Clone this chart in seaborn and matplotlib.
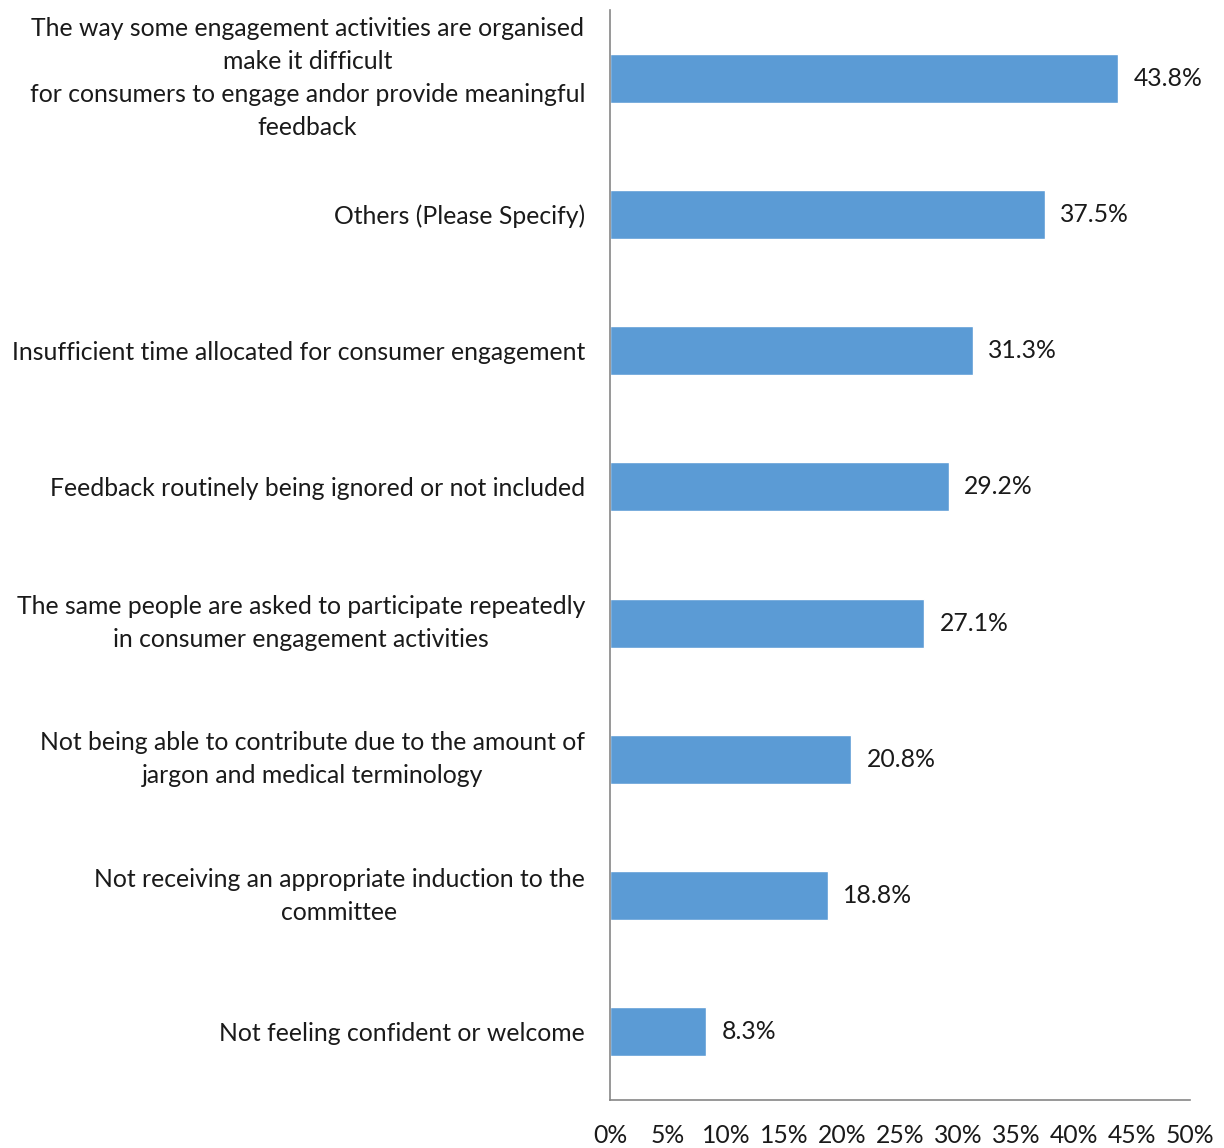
import matplotlib
matplotlib.use("Agg")
import matplotlib.pyplot as plt
import seaborn as sns
import pandas as pd

categories = [
    "The way some engagement activities are organised\nmake it difficult\nfor consumers to engage andor provide meaningful\nfeedback",
    "Others (Please Specify)",
    "Insufficient time allocated for consumer engagement",
    "Feedback routinely being ignored or not included",
    "The same people are asked to participate repeatedly\nin consumer engagement activities",
    "Not being able to contribute due to the amount of\njargon and medical terminology",
    "Not receiving an appropriate induction to the\ncommittee",
    "Not feeling confident or welcome",
]
values = [43.8, 37.5, 31.3, 29.2, 27.1, 20.8, 18.8, 8.3]
x_ticks = [0, 5, 10, 15, 20, 25, 30, 35, 40, 45, 50]

sns.set_theme(style="white")
plt.rcParams["font.family"] = ["Lato", "DejaVu Sans"]

FS = 17.8
TXT = "#1a1a1a"

df = pd.DataFrame({"category": categories, "value": values})

fig = plt.figure(figsize=(12.24, 11.48), dpi=100)
ax = fig.add_axes([610 / 1224, 1 - 1100 / 1148, 580 / 1224, 1090 / 1148])

sns.barplot(data=df, y="category", x="value", orient="h", color="#5B9BD5",
            width=0.36, saturation=1, ax=ax)

ax.bar_label(ax.containers[0], labels=[f"{v:.1f}%" for v in values],
             padding=11, fontsize=FS, color=TXT)

ax.set_xlim(0, 50)
ax.set_ylim(7.5, -0.5)
ax.set_xticks(x_ticks)
ax.set_xticklabels([f"{t}%" for t in x_ticks], fontsize=FS, color=TXT)
ax.set_xlabel("")
ax.set_ylabel("")
ax.tick_params(axis="x", length=0, pad=17)
ax.tick_params(axis="y", length=0, pad=18)
for lbl in ax.get_yticklabels():
    lbl.set_fontsize(FS)
    lbl.set_color(TXT)
    lbl.set_multialignment("center")
    lbl.set_linespacing(1.52)
    if "\n" in lbl.get_text():
        lbl.set_verticalalignment("center")

for side in ["top", "right"]:
    ax.spines[side].set_visible(False)
for side in ["left", "bottom"]:
    ax.spines[side].set_color("#868686")
    ax.spines[side].set_linewidth(1.2)

fig.savefig("out.png", dpi=100)
